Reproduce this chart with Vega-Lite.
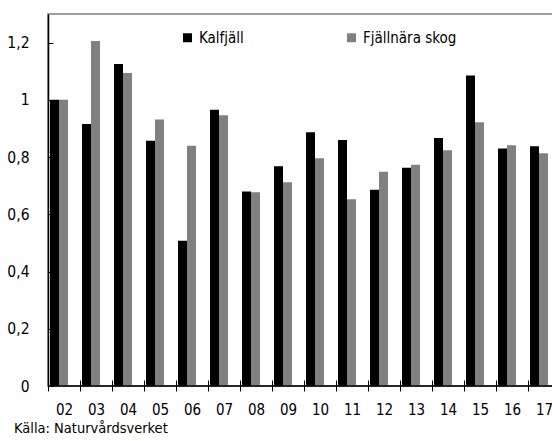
{
  "$schema": "https://vega.github.io/schema/vega-lite/v6.json",
  "width": 512,
  "height": 372,
  "autosize": {"type": "none"},
  "padding": {"left": 48, "top": 14, "right": 0, "bottom": 55},
  "background": "white",
  "config": {
    "font": "DejaVu Sans Condensed",
    "view": {"stroke": "#808080", "strokeWidth": 1.5}
  },
  "title": {
    "text": "Källa: Naturvårdsverket",
    "orient": "bottom",
    "anchor": "start",
    "frame": "group",
    "dx": -34,
    "offset": 5,
    "fontSize": 14.5,
    "fontWeight": "normal",
    "color": "black"
  },
  "data": {
    "values": [
      {"year": "02", "serie": "Kalfjäll", "value": 1.0},
      {"year": "02", "serie": "Fjällnära skog", "value": 1.0},
      {"year": "03", "serie": "Kalfjäll", "value": 0.916},
      {"year": "03", "serie": "Fjällnära skog", "value": 1.206},
      {"year": "04", "serie": "Kalfjäll", "value": 1.125},
      {"year": "04", "serie": "Fjällnära skog", "value": 1.094},
      {"year": "05", "serie": "Kalfjäll", "value": 0.857},
      {"year": "05", "serie": "Fjällnära skog", "value": 0.931},
      {"year": "06", "serie": "Kalfjäll", "value": 0.508},
      {"year": "06", "serie": "Fjällnära skog", "value": 0.84},
      {"year": "07", "serie": "Kalfjäll", "value": 0.965},
      {"year": "07", "serie": "Fjällnära skog", "value": 0.946},
      {"year": "08", "serie": "Kalfjäll", "value": 0.68},
      {"year": "08", "serie": "Fjällnära skog", "value": 0.677},
      {"year": "09", "serie": "Kalfjäll", "value": 0.768},
      {"year": "09", "serie": "Fjällnära skog", "value": 0.712},
      {"year": "10", "serie": "Kalfjäll", "value": 0.887},
      {"year": "10", "serie": "Fjällnära skog", "value": 0.796},
      {"year": "11", "serie": "Kalfjäll", "value": 0.86},
      {"year": "11", "serie": "Fjällnära skog", "value": 0.653},
      {"year": "12", "serie": "Kalfjäll", "value": 0.686},
      {"year": "12", "serie": "Fjällnära skog", "value": 0.749},
      {"year": "13", "serie": "Kalfjäll", "value": 0.763},
      {"year": "13", "serie": "Fjällnära skog", "value": 0.773},
      {"year": "14", "serie": "Kalfjäll", "value": 0.867},
      {"year": "14", "serie": "Fjällnära skog", "value": 0.824},
      {"year": "15", "serie": "Kalfjäll", "value": 1.085},
      {"year": "15", "serie": "Fjällnära skog", "value": 0.922},
      {"year": "16", "serie": "Kalfjäll", "value": 0.83},
      {"year": "16", "serie": "Fjällnära skog", "value": 0.841},
      {"year": "17", "serie": "Kalfjäll", "value": 0.838},
      {"year": "17", "serie": "Fjällnära skog", "value": 0.813}
    ]
  },
  "layer": [
    {
      "mark": {"type": "bar"},
      "encoding": {
        "x": {
          "field": "year",
          "type": "nominal",
          "sort": null,
          "scale": {"paddingInner": 0, "paddingOuter": 0},
          "axis": {
            "title": null,
            "tickBand": "extent",
            "domain": false,
            "offset": -6,
            "tickSize": 11,
            "tickColor": "black",
            "tickWidth": 1,
            "labelAngle": 0,
            "labelFontSize": 15,
            "labelColor": "black",
            "labelPadding": 11,
            "grid": false,
            "zindex": 1
          }
        },
        "xOffset": {
          "field": "serie",
          "type": "nominal",
          "sort": null,
          "scale": {
            "domain": ["Kalfjäll", "Fjällnära skog", "_"],
            "paddingInner": 0,
            "paddingOuter": 0.278,
            "align": 0.4
          }
        },
        "y": {
          "field": "value",
          "type": "quantitative",
          "scale": {"domain": [0, 1.3], "nice": false},
          "axis": {
            "title": null,
            "values": [0, 0.2, 0.4, 0.6, 0.8, 1, 1.2],
            "labelExpr": "replace(format(datum.value, '.1~f'), '.', ',')",
            "tickSize": -5,
            "tickColor": "black",
            "domainColor": "black",
            "domainWidth": 1.5,
            "grid": false,
            "labelFontSize": 15.5,
            "labelColor": "black",
            "labelPadding": 24,
            "zindex": 1
          }
        },
        "color": {
          "field": "serie",
          "type": "nominal",
          "scale": {"domain": ["Kalfjäll", "Fjällnära skog"], "range": ["#000000", "#808080"]},
          "legend": {
            "title": null,
            "orient": "none",
            "legendX": 132,
            "legendY": 16,
            "direction": "horizontal",
            "columns": 2,
            "columnPadding": 100,
            "symbolType": "square",
            "symbolSize": 81,
            "symbolStrokeWidth": 0,
            "symbolOpacity": 1,
            "labelFontSize": 15,
            "labelColor": "black",
            "labelOffset": 4,
            "padding": 0
          }
        }
      }
    },
    {
      "data": {"values": [{"base": 0}]},
      "mark": {"type": "rule", "color": "black", "strokeWidth": 1.5},
      "encoding": {"y": {"field": "base", "type": "quantitative"}}
    }
  ]
}
